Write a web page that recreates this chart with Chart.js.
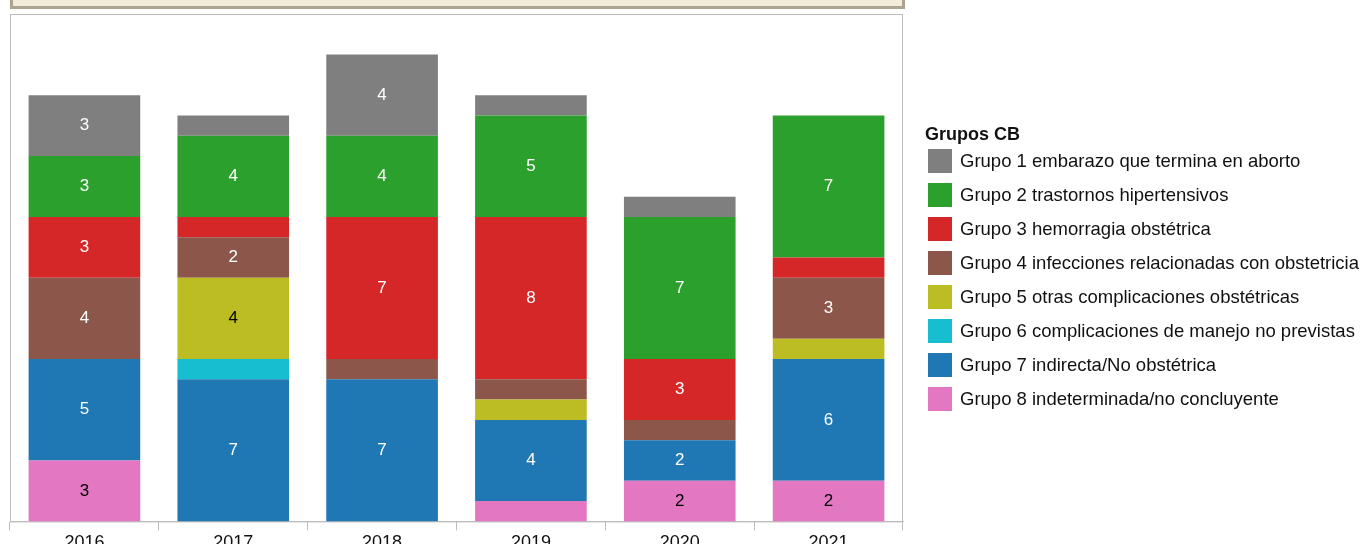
<!DOCTYPE html>
<html>
<head>
<meta charset="utf-8">
<script src="https://cdn.jsdelivr.net/npm/chart.js@4/dist/chart.umd.min.js"></script>
<style>
    body { margin: 0; background: #fff; overflow: hidden; font-family: Arial, "Liberation Sans", sans-serif; }
    #frame { position: absolute; left: 10px; top: -20px; width: 889px; height: 23px; background: #f3ecdb; border: 3px solid #aba592; }
    #wrap { position: absolute; left: 0; top: 0; width: 1361px; height: 556px; }
    #legend { position: absolute; left: 925px; top: 122px; color: #111; }
    #legend .title { font-weight: bold; font-size: 18px; height: 22px; line-height: 24px; }
    #legend .item { display: flex; align-items: center; height: 34px; font-size: 18.5px; }
    #legend .box { width: 24px; height: 24px; margin: 0 8px 0 3px; }
</style>
</head>
<body>
<div id="frame"></div>
<div id="wrap"><canvas id="chart"></canvas></div>
<div id="legend"></div>
<script>
var years = ["2016", "2017", "2018", "2019", "2020", "2021"];

var groupNames = [
    "Grupo 1 embarazo que termina en aborto",
    "Grupo 2 trastornos hipertensivos",
    "Grupo 3 hemorragia obstétrica",
    "Grupo 4 infecciones relacionadas con obstetricia",
    "Grupo 5 otras complicaciones obstétricas",
    "Grupo 6 complicaciones de manejo no previstas",
    "Grupo 7 indirecta/No obstétrica",
    "Grupo 8 indeterminada/no concluyente"
];

var grupo1 = [3, 1, 4, 1, 1, 0];
var grupo2 = [3, 4, 4, 5, 7, 7];
var grupo3 = [3, 1, 7, 8, 3, 1];
var grupo4 = [4, 2, 1, 1, 1, 3];
var grupo5 = [0, 4, 0, 1, 0, 1];
var grupo6 = [0, 1, 0, 0, 0, 0];
var grupo7 = [5, 7, 7, 4, 2, 6];
var grupo8 = [3, 0, 0, 1, 2, 2];

var groupColors = ["#7f7f7f", "#2ca02c", "#d62728", "#8c564b", "#bcbd22", "#17becf", "#1f77b4", "#e377c2"];
var labelColors = ["#fff", "#fff", "#fff", "#fff", "#000", "#fff", "#fff", "#000"];

var series = [grupo1, grupo2, grupo3, grupo4, grupo5, grupo6, grupo7, grupo8];

// legend
var legend = document.getElementById("legend");
var html = '<div class="title">Grupos CB</div>';
groupNames.forEach(function (name, i) {
    html += '<div class="item"><div class="box" style="background:' + groupColors[i] + '"></div>' + name + '</div>';
});
legend.innerHTML = html;

// bottom group first so it stacks at the base
var datasets = [];
for (var i = series.length - 1; i >= 0; i--) {
    datasets.push({
        label: groupNames[i],
        data: series[i],
        backgroundColor: groupColors[i],
        labelColor: labelColors[i],
        borderWidth: 0
    });
}

var boxPlugin = {
    id: 'box',
    beforeDraw: function (chart) {
        var a = chart.chartArea, ctx = chart.ctx;
        ctx.save();
        ctx.strokeStyle = "#bdbdbd";
        ctx.lineWidth = 1;
        ctx.strokeRect(a.left + 0.5, a.top + 0.5, a.right - a.left - 1, a.bottom - a.top);
        ctx.restore();
    }
};

var valuePlugin = {
    id: 'values',
    afterDatasetsDraw: function (chart) {
        var ctx = chart.ctx;
        ctx.save();
        ctx.font = "17px Arial, 'Liberation Sans'";
        ctx.textAlign = "center";
        ctx.textBaseline = "middle";
        chart.data.datasets.forEach(function (ds, di) {
            var meta = chart.getDatasetMeta(di);
            meta.data.forEach(function (bar, j) {
                var v = ds.data[j];
                if (v < 2) return;
                ctx.fillStyle = ds.labelColor;
                ctx.fillText(v, bar.x, (bar.y + bar.base) / 2);
            });
        });
        ctx.restore();
    }
};

Chart.defaults.font.family = "Arial, 'Liberation Sans', sans-serif";
Chart.defaults.color = "#111";

new Chart(document.getElementById("chart"), {
    type: 'bar',
    data: { labels: years, datasets: datasets },
    plugins: [boxPlugin, valuePlugin],
    options: {
        responsive: true,
        maintainAspectRatio: false,
        animation: false,
        layout: { padding: { left: 10, top: 14, right: 458, bottom: 0 } },
        datasets: { bar: { barPercentage: 0.75, categoryPercentage: 1 } },
        scales: {
            x: {
                stacked: true,
                grid: { display: true, drawOnChartArea: false, tickLength: 9, color: "#bdbdbd" },
                border: { display: true, color: "#bdbdbd" },
                ticks: { font: { size: 18 }, padding: 2, color: "#111" }
            },
            y: {
                stacked: true,
                display: false,
                min: 0,
                max: 25
            }
        },
        plugins: {
            legend: { display: false },
            tooltip: { enabled: false }
        }
    }
});
</script>
</body>
</html>
